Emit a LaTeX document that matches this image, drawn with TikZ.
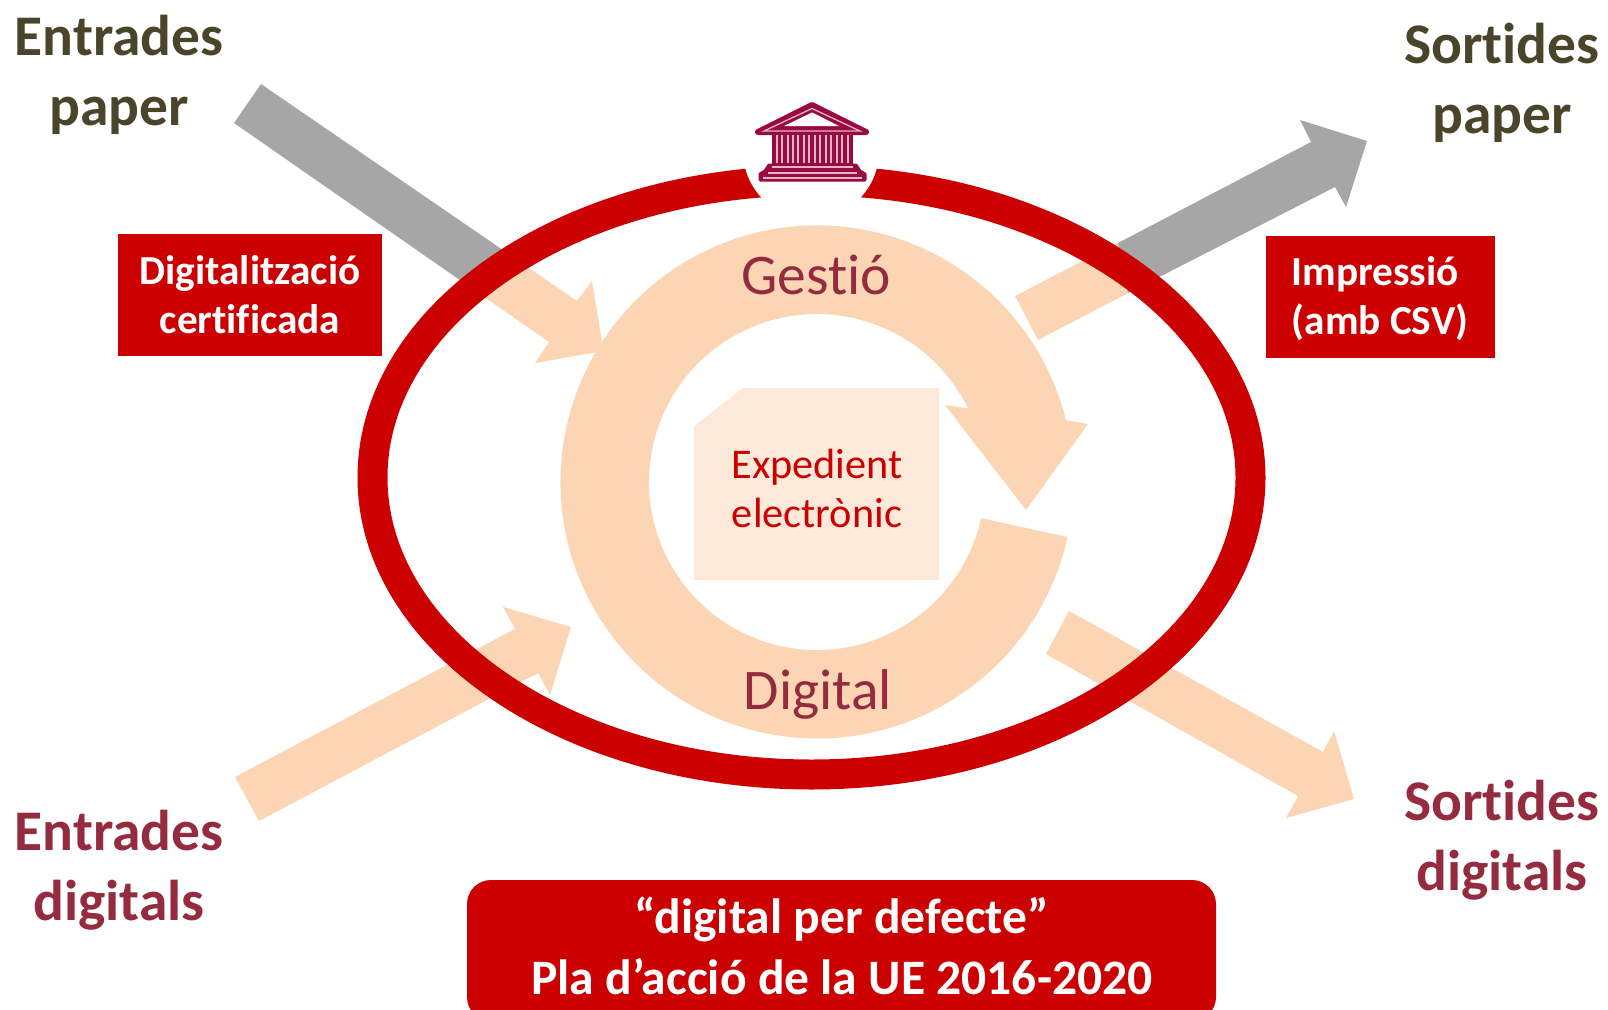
\documentclass[tikz,border=0pt]{standalone}
\usepackage{fontspec}
\setmainfont[Ligatures=NoCommon]{Carlito}
\definecolor{ringred}{HTML}{CC0000}
\definecolor{flowpeach}{HTML}{FCD5B5}
\definecolor{docpeach}{HTML}{FDE9D9}
\definecolor{papergrey}{HTML}{A6A6A6}
\definecolor{paperolive}{HTML}{4A452A}
\definecolor{digitalrose}{HTML}{952B3F}
\definecolor{templerose}{HTML}{990A42}
\tikzset{
  biglabel/.style={font=\fontsize{57.5}{70}\selectfont\bfseries, align=center},
  redtext/.style={text=white, font=\fontsize{41.3}{49}\selectfont\bfseries, inner sep=0pt},
  cyclelabel/.style={text=digitalrose, font=\fontsize{57.5}{60}\selectfont},
  templeline/.style={white!70!templerose, line width=1.3pt}
}
\begin{document}
\begin{tikzpicture}[x=1pt,y=-1pt]
    \useasboundingbox (0,0) rectangle (1608,1009);

    % Paper in and out
    \fill[flowpeach] (513,257) -- (577,301) -- (592,281) -- (603.5,351) -- (535,363) -- (549,342) -- (472,288.5) -- cycle;
    \fill[papergrey] (261,84) -- (513,257) -- (472,288.5) -- (234,123) -- cycle;
    \fill[flowpeach] (1015,296) -- (1123,240) -- (1132,291) -- (1038,340) -- cycle;
    \fill[papergrey] (1118,243) -- (1311,142) -- (1300,120) -- (1367,141) -- (1346,207) -- (1335,187) -- (1128,293) -- cycle;

    % Digital in and out
    \fill[flowpeach] (235,777) -- (515,629) -- (503,607) -- (571,627) -- (550,695) -- (538,673) -- (259,821) -- cycle;
    \fill[flowpeach] (1069,611) -- (1323,752) -- (1334,731) -- (1354,799) -- (1286,818) -- (1298,796) -- (1046,654) -- cycle;

    % Management cycle
    \fill[flowpeach] (1067.5,537) arc[start angle=-12.4, end angle=-346.1, radius=256.5pt]
        -- (1088,424) -- (1026,510) -- (945,405) -- (968,408.4)
        arc[start angle=26, end angle=347.6, radius=168pt] -- cycle;
    \fill[docpeach] (743,388) -- (939,388) -- (939,580) -- (694,580) -- (694,426) -- cycle;

    % Outer ring, open at the top
    \draw[ringred, line width=30pt] (811.5,477.5) ellipse [x radius=439pt, y radius=297pt];
    \fill[white] (811,151) circle (68pt);

    % Temple
    \draw[templerose, line width=6pt, line join=round, fill=templerose] (812,105) -- (866,132) -- (758,132) -- cycle;
    \draw[templeline] (812,108.5) -- (860,131) -- (764,131) -- cycle;
    \fill[white] (812,112.5) -- (839,126) -- (784,126) -- cycle;
    \fill[templerose] (772,135) rectangle (853,164);
    \foreach \colx in {777,782,788,793,798,804,809,815,820,826,831,837,842,848}
        \draw[templeline] (\colx,135) -- (\colx,163);
    \draw[templerose, line width=3pt, line join=round, fill=templerose] (769,165) -- (856,165) -- (860,171) -- (865,174) -- (865,180) -- (760,180) -- (760,174) -- (765,171) -- cycle;
    \draw[templeline] (772,167) -- (853,167);
    \draw[templeline] (768,173) -- (857,173);
    \draw[templeline] (763,178) -- (862,178);

    % Labels
    \node[biglabel, text=paperolive] (entpaper) at (119,75) {Entrades\\paper};
    \node[biglabel, text=paperolive] (sortpaper) at (1502,83) {Sortides\\paper};
    \node[biglabel, text=digitalrose] (entdigital) at (119,870) {Entrades\\digitals};
    \node[biglabel, text=digitalrose] (sortdigital) at (1502,840) {Sortides\\digitals};
    \node[cyclelabel] (gestio) at (816,275) {Gestió};
    \node[cyclelabel] (digital) at (818,694) {Digital};
    \node[text=ringred, font=\fontsize{42.3}{49}\selectfont, align=center] (expedient) at (817,488) {Expedient\\electrònic};

    % Red boxes
    \fill[ringred] (118,234) rectangle (382,356);
    \node[redtext, align=center] (digitalitzacio) at (250,295) {Digitalització\\certificada};
    \fill[ringred] (1265.5,236) rectangle (1494.5,358);
    \node[redtext, align=left] (impressio) at (1380,299) {Impressió\\(amb CSV)};
    \fill[ringred, rounded corners=24pt] (467,880) rectangle (1216,1021);
    \node[text=white, font=\fontsize{49.6}{60.5}\selectfont\bfseries, align=center] (pla) at (842,946) {“digital per defecte”\\Pla d’acció de la UE 2016-2020};
\end{tikzpicture}
\end{document}
